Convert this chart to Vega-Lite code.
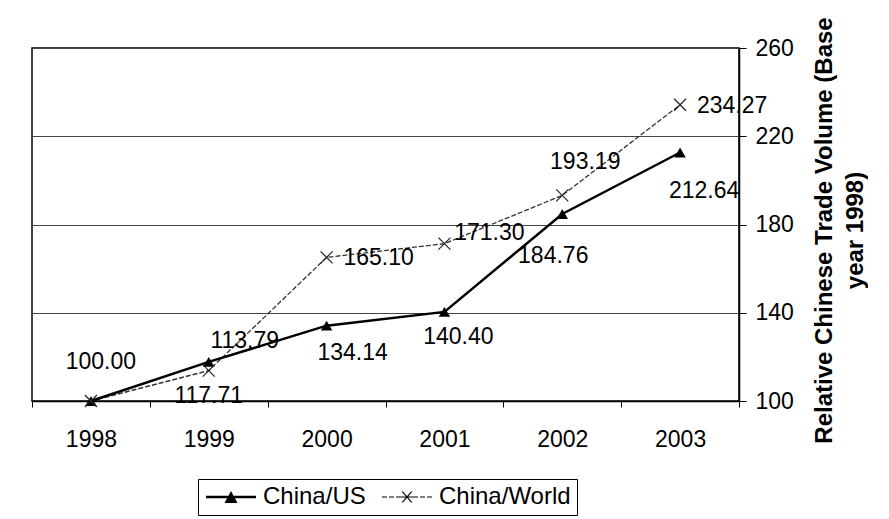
{
  "$schema": "https://vega.github.io/schema/vega-lite/v6.json",
  "width": 707,
  "height": 353,
  "padding": {"left": 31, "top": 16, "right": 0, "bottom": 0},
  "autosize": {"type": "pad"},
  "background": "white",
  "config": {
    "font": "Liberation Sans",
    "view": {"stroke": "black", "strokeWidth": 1.5},
    "axis": {"labelFont": "Liberation Sans", "titleFont": "Liberation Sans", "labelColor": "black", "titleColor": "black", "domainColor": "black", "tickColor": "black"},
    "text": {"font": "Liberation Sans", "fontSize": 23, "color": "black", "align": "center", "baseline": "middle"}
  },
  "data": {
    "values": [
      {"year": "1998", "series": "China/US", "value": 100.00},
      {"year": "1999", "series": "China/US", "value": 117.71},
      {"year": "2000", "series": "China/US", "value": 134.14},
      {"year": "2001", "series": "China/US", "value": 140.40},
      {"year": "2002", "series": "China/US", "value": 184.76},
      {"year": "2003", "series": "China/US", "value": 212.64},
      {"year": "1998", "series": "China/World", "value": 100.00},
      {"year": "1999", "series": "China/World", "value": 113.79},
      {"year": "2000", "series": "China/World", "value": 165.10},
      {"year": "2001", "series": "China/World", "value": 171.30},
      {"year": "2002", "series": "China/World", "value": 193.19},
      {"year": "2003", "series": "China/World", "value": 234.27}
    ]
  },
  "encoding": {
    "x": {
      "field": "year", "type": "ordinal",
      "scale": {"type": "band", "paddingInner": 0, "paddingOuter": 0},
      "axis": {"title": null, "labelAngle": 0, "labelFontSize": 23, "labelPadding": 21, "tickBand": "extent", "tickSize": 6, "domainWidth": 1.5, "tickWidth": 1, "grid": false}
    },
    "y": {
      "field": "value", "type": "quantitative",
      "scale": {"domain": [100, 260], "nice": false, "zero": false},
      "axis": {
        "orient": "right", "values": [100, 140, 180, 220, 260], "tickSize": 7, "labelPadding": 9, "labelFontSize": 23,
        "grid": true, "gridColor": "#444", "gridWidth": 1, "domainWidth": 1.5,
        "title": ["Relative Chinese Trade Volume (Base", "year 1998)"],
        "titleAngle": 270, "titleBaseline": "top", "titleFontSize": 24, "titleFontWeight": "bold",
        "titlePadding": -12, "titleLineHeight": 31, "titleAlign": "center", "titleAnchor": "middle", "titleY": 182
      }
    }
  },
  "layer": [
    {
      "transform": [{"filter": "datum.series === 'China/World'"}],
      "mark": {"type": "line", "color": "#333", "strokeWidth": 1.3, "strokeDash": [5, 2]},
      "encoding": {}
    },
    {
      "transform": [{"filter": "datum.series === 'China/US'"}],
      "mark": {"type": "line", "color": "black", "strokeWidth": 2.5},
      "encoding": {}
    },
    {
      "transform": [{"filter": "datum.series === 'China/US'"}],
      "mark": {"type": "point", "shape": "triangle-up", "filled": true, "color": "black", "size": 130, "opacity": 1},
      "encoding": {}
    },
    {
      "transform": [{"filter": "datum.series === 'China/World'"}],
      "mark": {"type": "point", "shape": "M-1,-1L1,1M-1,1L1,-1", "filled": false, "color": "#222", "strokeWidth": 1.2, "size": 144, "opacity": 1},
      "encoding": {}
    },
    {
      "mark": {"type": "point", "filled": true, "color": "black", "opacity": 0},
      "encoding": {
        "shape": {
          "field": "series", "type": "nominal",
          "scale": {"domain": ["China/US", "China/World"], "range": [
            "M-1,-0.12H4V0.12H-1ZM1.5,-0.6L2.15,0.6L0.85,0.6Z",
            "M-1,-0.06H-0.5V0.06H-1ZM-0.3,-0.06H0.2V0.06H-0.3ZM0.4,-0.06H2.6V0.06H0.4ZM2.8,-0.06H3.3V0.06H2.8ZM3.5,-0.06H4V0.06H3.5ZM0.95,-0.55L1.1,-0.55L2.05,0.55L1.9,0.55ZM1.9,-0.55L2.05,-0.55L1.1,0.55L0.95,0.55Z"
          ]},
          "legend": {
            "orient": "none", "legendX": 166, "legendY": 431, "direction": "horizontal", "title": null,
            "symbolSize": 400, "symbolFillColor": "black", "symbolStrokeColor": "black", "symbolStrokeWidth": 0, "symbolOpacity": 1,
            "labelFontSize": 24, "labelFont": "Liberation Sans", "labelColor": "black", "labelOffset": 35, "columnPadding": 14,
            "strokeColor": "black", "padding": 6, "labelLimit": 300
          }
        }
      }
    },
    {
      "transform": [{"filter": "datum.series === 'China/US' && datum.year === '1998'"}],
      "mark": {"type": "text", "dx": 10, "dy": -39},
      "encoding": {"text": {"field": "value", "type": "quantitative", "format": ".2f"}}
    },
    {
      "transform": [{"filter": "datum.series === 'China/US' && datum.year === '1999'"}],
      "mark": {"type": "text", "dx": 0, "dy": 34},
      "encoding": {"text": {"field": "value", "type": "quantitative", "format": ".2f"}}
    },
    {
      "transform": [{"filter": "datum.series === 'China/US' && datum.year === '2000'"}],
      "mark": {"type": "text", "dx": 26, "dy": 27},
      "encoding": {"text": {"field": "value", "type": "quantitative", "format": ".2f"}}
    },
    {
      "transform": [{"filter": "datum.series === 'China/US' && datum.year === '2001'"}],
      "mark": {"type": "text", "dx": 14, "dy": 25},
      "encoding": {"text": {"field": "value", "type": "quantitative", "format": ".2f"}}
    },
    {
      "transform": [{"filter": "datum.series === 'China/US' && datum.year === '2002'"}],
      "mark": {"type": "text", "dx": -9, "dy": 42},
      "encoding": {"text": {"field": "value", "type": "quantitative", "format": ".2f"}}
    },
    {
      "transform": [{"filter": "datum.series === 'China/US' && datum.year === '2003'"}],
      "mark": {"type": "text", "dx": 24, "dy": 39},
      "encoding": {"text": {"field": "value", "type": "quantitative", "format": ".2f"}}
    },
    {
      "transform": [{"filter": "datum.series === 'China/World' && datum.year === '1999'"}],
      "mark": {"type": "text", "dx": 36, "dy": -30},
      "encoding": {"text": {"field": "value", "type": "quantitative", "format": ".2f"}}
    },
    {
      "transform": [{"filter": "datum.series === 'China/World' && (datum.year === '2000' || datum.year === '2003')"}],
      "mark": {"type": "text", "dx": 52, "dy": 1},
      "encoding": {"text": {"field": "value", "type": "quantitative", "format": ".2f"}}
    },
    {
      "transform": [{"filter": "datum.series === 'China/World' && datum.year === '2001'"}],
      "mark": {"type": "text", "dx": 45, "dy": -11},
      "encoding": {"text": {"field": "value", "type": "quantitative", "format": ".2f"}}
    },
    {
      "transform": [{"filter": "datum.series === 'China/World' && datum.year === '2002'"}],
      "mark": {"type": "text", "dx": 23, "dy": -33},
      "encoding": {"text": {"field": "value", "type": "quantitative", "format": ".2f"}}
    }
  ]
}
